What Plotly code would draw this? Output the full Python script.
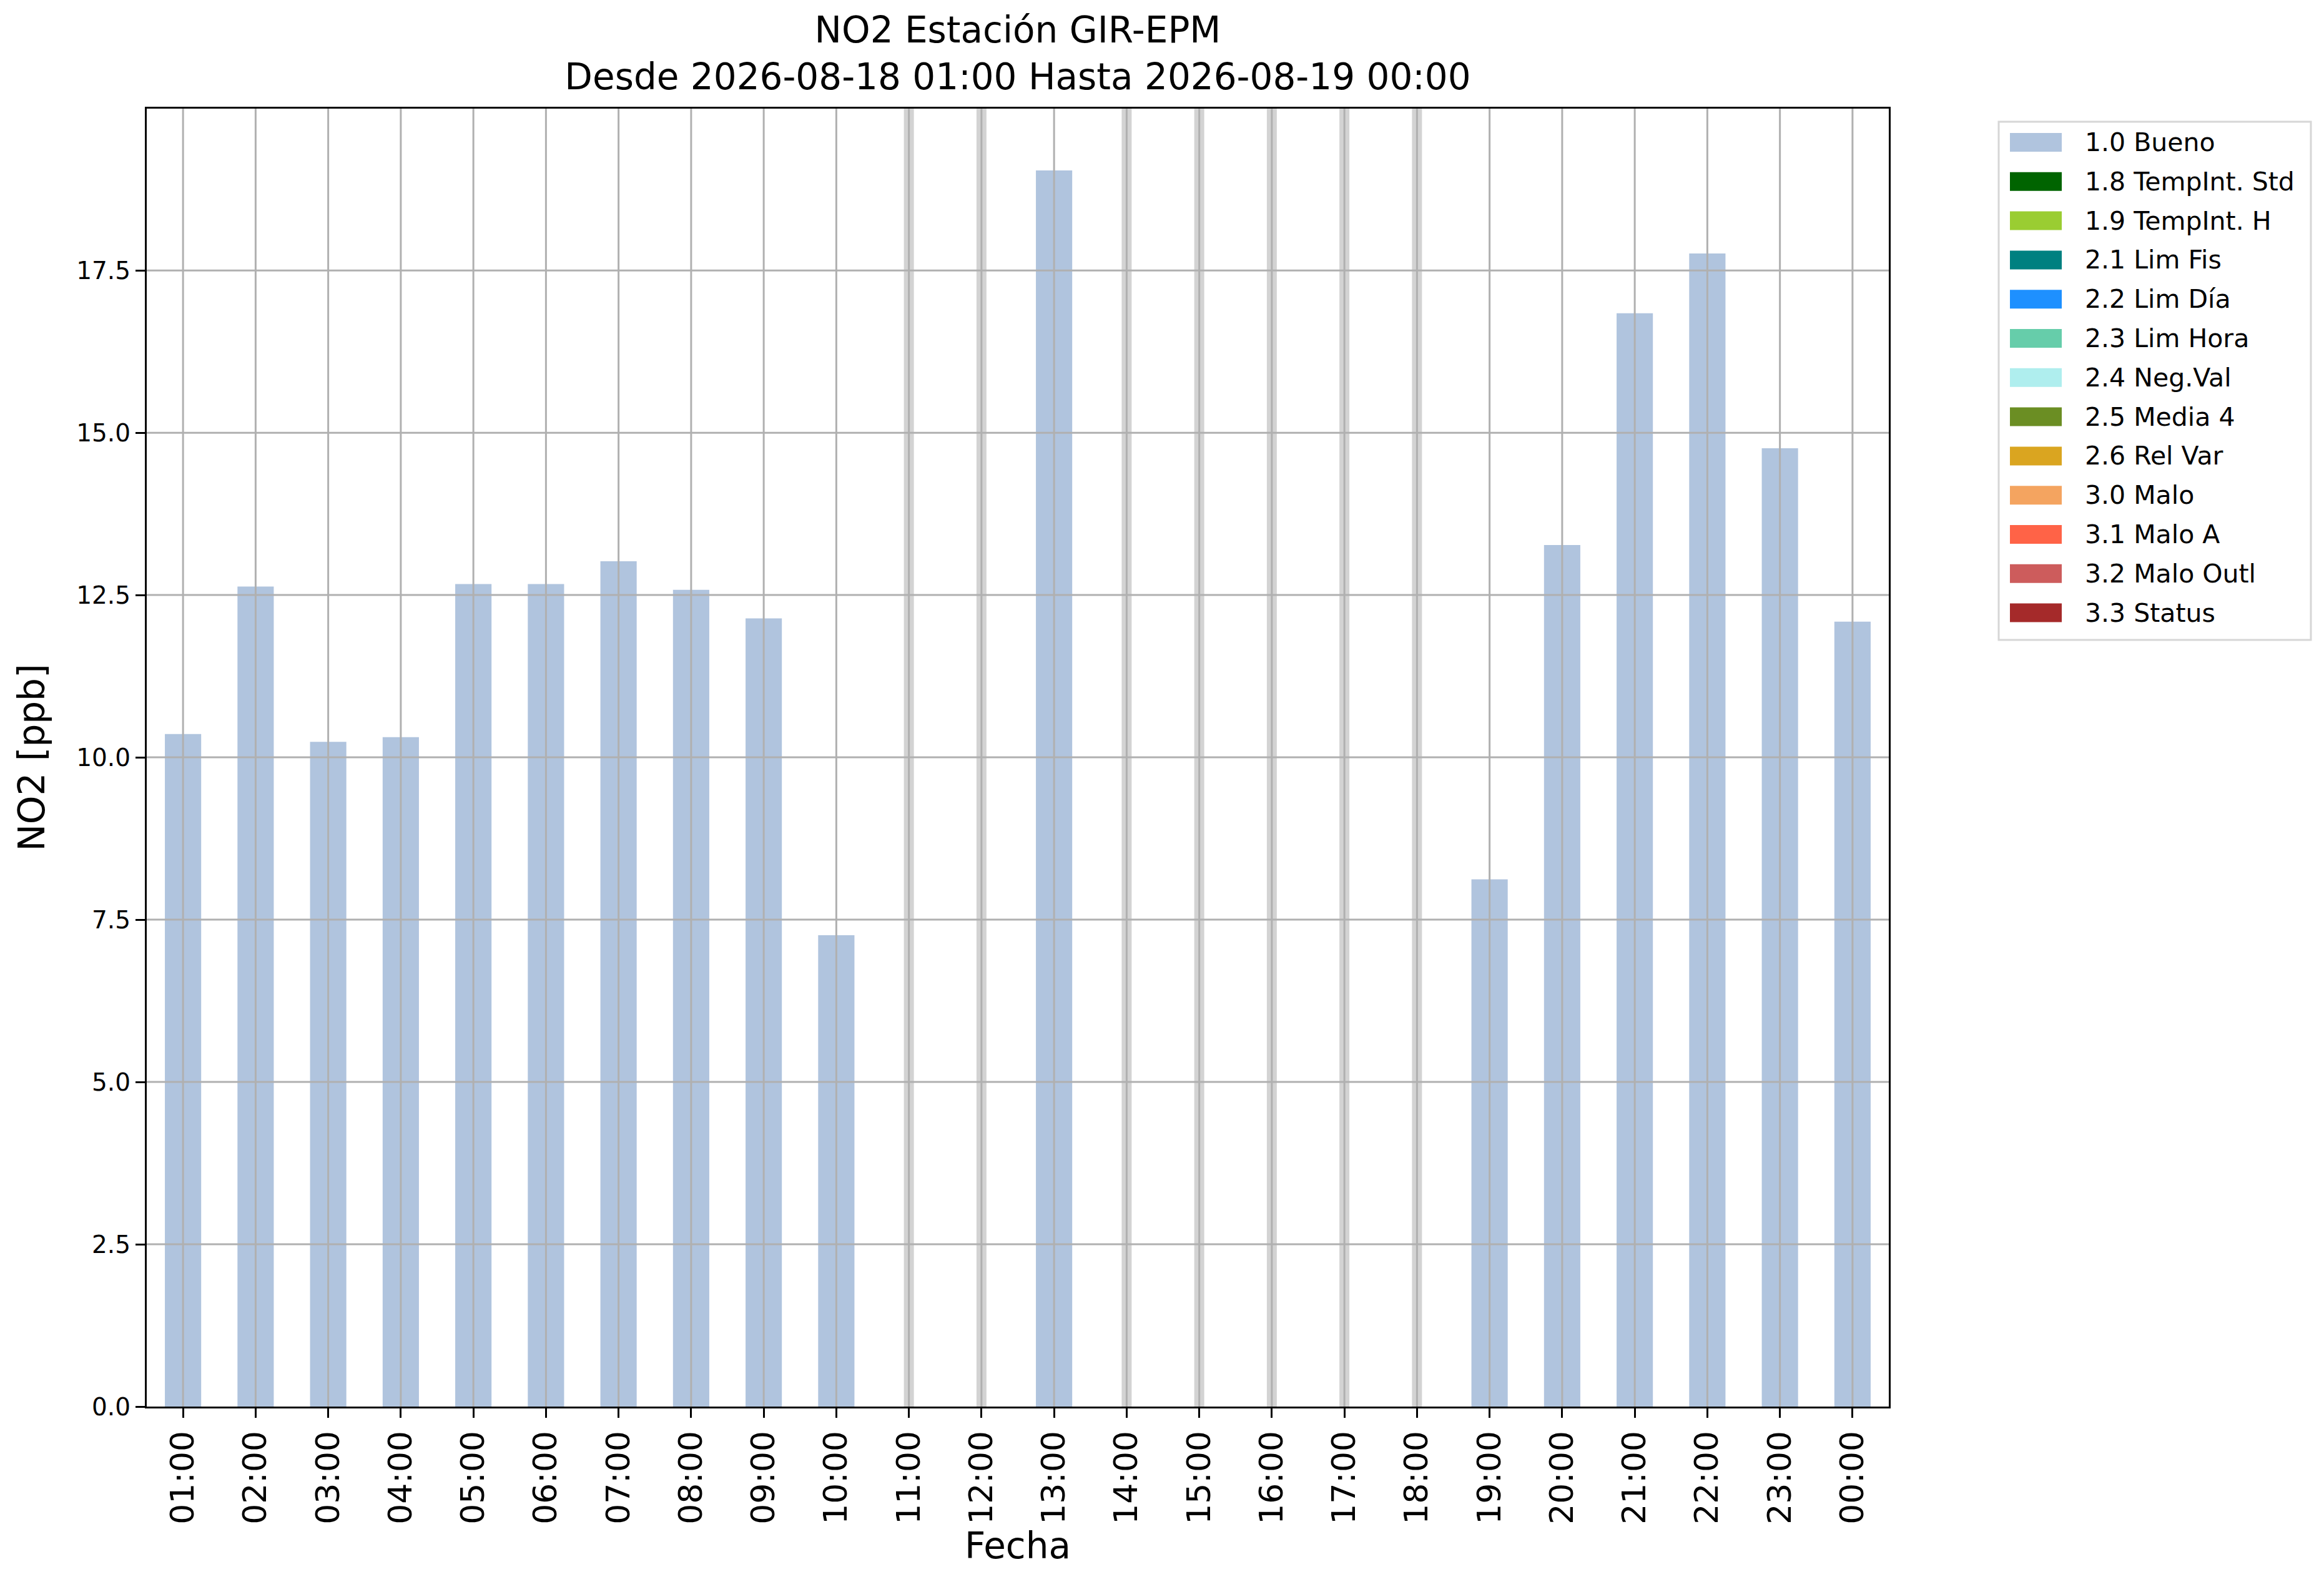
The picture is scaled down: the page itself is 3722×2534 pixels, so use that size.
import plotly.graph_objects as go

# Datos: NO2 horario, estación GIR-EPM
horas = ["01:00", "02:00", "03:00", "04:00", "05:00", "06:00", "07:00", "08:00",
         "09:00", "10:00", "11:00", "12:00", "13:00", "14:00", "15:00", "16:00",
         "17:00", "18:00", "19:00", "20:00", "21:00", "22:00", "23:00", "00:00"]
no2_ppb = [10.36, 12.63, 10.24, 10.31, 12.67, 12.67, 13.02, 12.58,
           12.14, 7.26, None, None, 19.04, None, None, None,
           None, None, 8.12, 13.27, 16.84, 17.76, 14.76, 12.09]

# Banderas de calidad (leyenda)
codigos = ["1.0 Bueno", "1.8 TempInt. Std", "1.9 TempInt. H", "2.1 Lim Fis",
           "2.2 Lim Día", "2.3 Lim Hora", "2.4 Neg.Val", "2.5 Media 4",
           "2.6 Rel Var", "3.0 Malo", "3.1 Malo A", "3.2 Malo Outl", "3.3 Status"]
colores = ["#b0c4de", "#006400", "#9acd32", "#008080", "#1e90ff", "#66cdaa",
           "#afeeee", "#6b8e23", "#daa520", "#f4a460", "#ff6347", "#cd5c5c",
           "#a52a2a"]

y_ticks = [0.0, 2.5, 5.0, 7.5, 10.0, 12.5, 15.0, 17.5]

W, H = 3722, 2534
L, R, T, B = 227, 705, 166, 289
pw, ph = W - L - R, H - T - B
FONT = "DejaVu Sans"
GRID = "#b0b0b0"


def px_x(p):
    return (p - L) / pw


def px_y(p):
    return 1 - (p - T) / ph


y_max = max(v for v in no2_ppb if v is not None) * 1.05

fig = go.Figure()
fig.add_trace(go.Bar(
    x=horas, y=no2_ppb, marker=dict(color=colores[0], line=dict(width=0)),
    name=codigos[0], showlegend=False
))

shapes = []
# horas sin dato: línea gris clara
for h, v in zip(horas, no2_ppb):
    if v is None:
        shapes.append(dict(type="line", xref="x", yref="paper", x0=h, x1=h, y0=0, y1=1,
                           line=dict(color="#d3d3d3", width=16), layer="above"))
# rejilla por encima de las barras (como en matplotlib)
for h in horas:
    shapes.append(dict(type="line", xref="x", yref="paper", x0=h, x1=h, y0=0, y1=1,
                       line=dict(color=GRID, width=3), layer="above"))
for t in y_ticks[1:]:
    shapes.append(dict(type="line", xref="paper", yref="y", x0=0, x1=1, y0=t, y1=t,
                       line=dict(color=GRID, width=3), layer="above"))

# leyenda manual
annotations = []
leg_x0, leg_x1, leg_y0, leg_y1 = 3193, 3693, 187, 1017
shapes.append(dict(type="rect", xref="paper", yref="paper",
                   x0=px_x(leg_x0), x1=px_x(leg_x1), y0=px_y(leg_y1), y1=px_y(leg_y0),
                   line=dict(color="#d6d6d6", width=3), fillcolor="white", layer="above"))
for i, (c, col) in enumerate(zip(codigos, colores)):
    yc = 220 + i * 62.8
    shapes.append(dict(type="rect", xref="paper", yref="paper",
                       x0=px_x(3211), x1=px_x(3294), y0=px_y(yc + 15), y1=px_y(yc - 15),
                       line=dict(width=0), fillcolor=col, layer="above"))
    annotations.append(dict(xref="paper", yref="paper", x=px_x(3329), y=px_y(yc),
                            xanchor="left", yanchor="middle", text=c, showarrow=False,
                            font=dict(family=FONT, size=41, color="black")))

axis_common = dict(showline=True, linecolor="black", linewidth=3.3, mirror=True,
                   ticks="outside", ticklen=15, tickwidth=3.3, tickcolor="black",
                   showgrid=False, zeroline=False)

fig.update_layout(
    width=W, height=H,
    margin=dict(l=L, r=R, t=T, b=B, autoexpand=False),
    paper_bgcolor="white", plot_bgcolor="white",
    font=dict(family=FONT, color="black"),
    title=dict(text="NO2 Estación GIR-EPM<br>Desde 2026-08-18 01:00 Hasta 2026-08-19 00:00",
               x=0.5, xref="paper", xanchor="center", y=1 - 60 / H, yref="container",
               yanchor="middle", font=dict(family=FONT, size=58, color="black")),
    bargap=0.5,
    showlegend=False,
    xaxis=dict(type="category", categoryorder="array", categoryarray=horas,
               range=[-0.5, len(horas) - 0.5], tickangle=-90,
               tickfont=dict(size=52), automargin=False,
               title=dict(text="Fecha", font=dict(size=58)), **axis_common),
    yaxis=dict(range=[0, y_max], tickvals=y_ticks, ticktext=[f"{t:.1f}" for t in y_ticks],
               tickfont=dict(size=39), automargin=False,
               title=dict(text="NO2 [ppb]", font=dict(size=58), standoff=32), **axis_common),
    shapes=shapes,
    annotations=annotations,
)

fig.write_html("out.html")
